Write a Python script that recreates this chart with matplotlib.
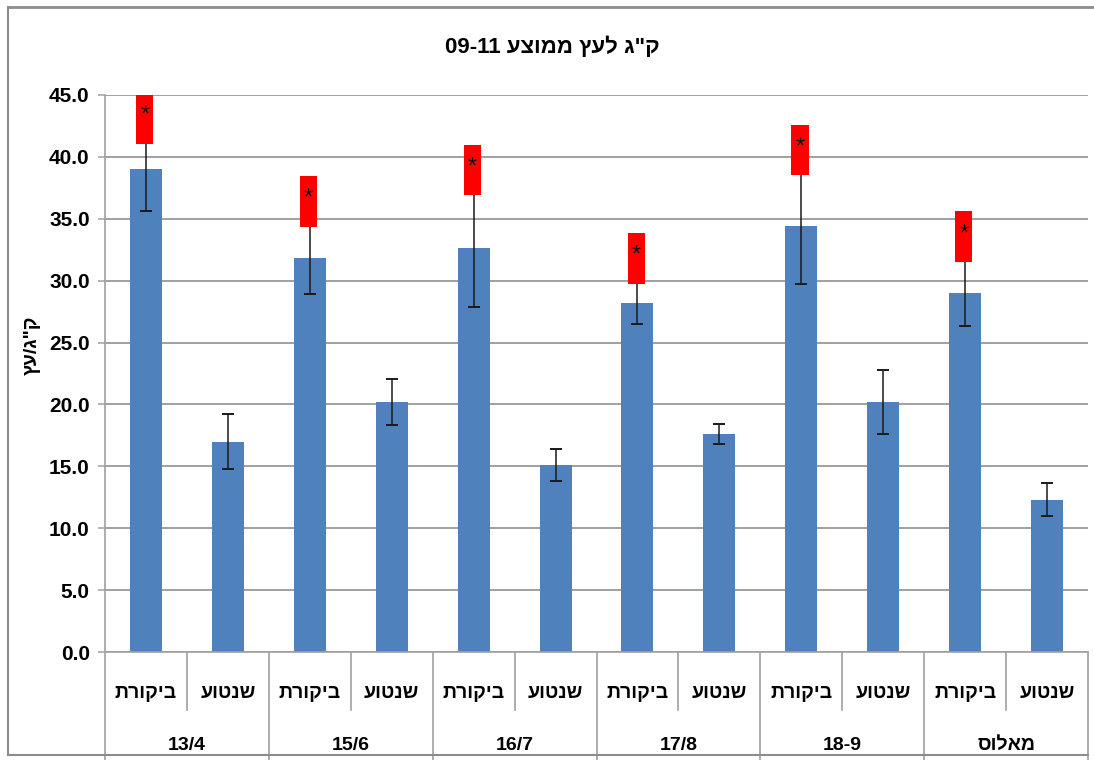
import matplotlib
matplotlib.use("Agg")
import matplotlib.pyplot as plt
from matplotlib.lines import Line2D
import numpy as np

plt.rcParams['font.family'] = ['Liberation Sans', 'DejaVu Sans']
plt.rcParams['font.weight'] = 'bold'

# --- data ------------------------------------------------------------------
groups = ["13/4", "15/6", "16/7", "17/8", "18-9", "מאלוס"]
treatments = ["ביקורת", "שנטוע"]
control = [39.0, 31.8, 32.6, 28.2, 34.4, 29.0]
control_err = [3.4, 2.9, 4.7, 1.7, 4.7, 2.7]
planted = [17.0, 20.2, 15.1, 17.6, 20.2, 12.3]
planted_err = [2.2, 1.85, 1.3, 0.8, 2.55, 1.35]
# red significance boxes above control bars (bottom, height)
sig_bottom = [41.05, 34.35, 36.9, 29.75, 38.5, 31.5]
sig_height = [4.1, 4.1, 4.1, 4.1, 4.1, 4.1]
title = 'ק"ג לעץ ממוצע 09-11'
ylabel = 'ק"ג/עץ'


def is_heb(w):
    return any('\u0590' <= ch <= '\u05ff' for ch in w)


def heb(s):
    # matplotlib has no bidi: lay the words out right-to-left by hand
    words = s.split(" ")
    return " ".join(w[::-1] if is_heb(w) else w for w in reversed(words))


BLUE = "#4f81bd"
GRID = "#a0a0a0"

fig = plt.figure(figsize=(10.94, 7.6), dpi=100)
W, H = 1094, 760
ax = fig.add_axes([105 / W, (H - 652) / H, (1088 - 105) / W, (652 - 95) / H])

n = len(groups)
xc = np.arange(n) * 2
xp = xc + 1
ax.bar(xc, control, width=0.39, color=BLUE, zorder=2)
ax.bar(xp, planted, width=0.39, color=BLUE, zorder=2)
ax.errorbar(xc, control, yerr=control_err, fmt="none", ecolor="#1a1a1a",
            elinewidth=1.1, capsize=4.5, capthick=1.4, zorder=3)
ax.errorbar(xp, planted, yerr=planted_err, fmt="none", ecolor="#1a1a1a",
            elinewidth=1.1, capsize=4.5, capthick=1.4, zorder=3)
ax.bar(xc - 0.015, sig_height, bottom=sig_bottom, width=0.21, color="#ff0000", zorder=6)
for x, b, h in zip(xc, sig_bottom, sig_height):
    ax.text(x - 0.015, b + h * 0.55, "*", ha="center", va="center", fontsize=17,
            fontweight="normal", color="#111111", zorder=7, clip_on=True)

ax.set_xlim(-0.5, 2 * n - 0.5)
ax.set_ylim(0, 45)
ax.set_yticks(np.arange(0, 46, 5))
ax.set_yticklabels([f"{v:.1f}" for v in np.arange(0, 46, 5)], fontsize=15, fontweight="bold")
ax.tick_params(axis="y", length=5, width=1.1, color=GRID, pad=6)
ax.set_xticks([])
ax.yaxis.grid(True, color=GRID, lw=1.4, zorder=0)
ax.set_axisbelow(True)
for s in ["top", "right"]:
    ax.spines[s].set_visible(False)
for s in ["left", "bottom"]:
    ax.spines[s].set_color(GRID)
    ax.spines[s].set_linewidth(1.2)

# multi-level category axis
tr = ax.get_xaxis_transform()
ph = 652 - 95
sub_y = -(693 - 652) / ph
grp_y = -(745 - 652) / ph
sub_low = -(710 - 652) / ph
grp_low = -(H - 652) / ph
for i in range(2 * n):
    ax.text(i, sub_y, heb(treatments[i % 2]), transform=tr, ha="center", va="center",
            fontsize=14, fontweight="bold")
for g in range(n):
    ax.text(2 * g + 0.5, grp_y, heb(groups[g]), transform=tr, ha="center", va="center",
            fontsize=14, fontweight="bold")
for i in range(2 * n + 1):
    low = grp_low if i % 2 == 0 else sub_low
    ax.add_line(Line2D([i - 0.5, i - 0.5], [0, low], transform=tr, color=GRID,
                       lw=1.2, clip_on=False))

ax.set_ylabel(heb(ylabel), fontsize=14, fontweight="bold")
ax.yaxis.set_label_coords(-(105 - 41) / (1088 - 105), (652 - 345) / ph)

fig.text(552 / W, 1 - 47 / H, heb(title), ha="center", va="center",
         fontsize=16, fontweight="bold")

# chart border (top, left, bottom)
bc = "#8c8c8c"
fig.add_artist(Line2D([8 / W, 1], [1 - 7 / H, 1 - 7 / H], transform=fig.transFigure, color=bc, lw=2))
fig.add_artist(Line2D([8 / W, 8 / W], [1 - 7 / H, 1 - 755 / H], transform=fig.transFigure, color=bc, lw=1.5))
fig.add_artist(Line2D([8 / W, 1088 / W], [1 - 755 / H, 1 - 755 / H], transform=fig.transFigure, color=bc, lw=1.5))

fig.savefig("out.png", dpi=100)
